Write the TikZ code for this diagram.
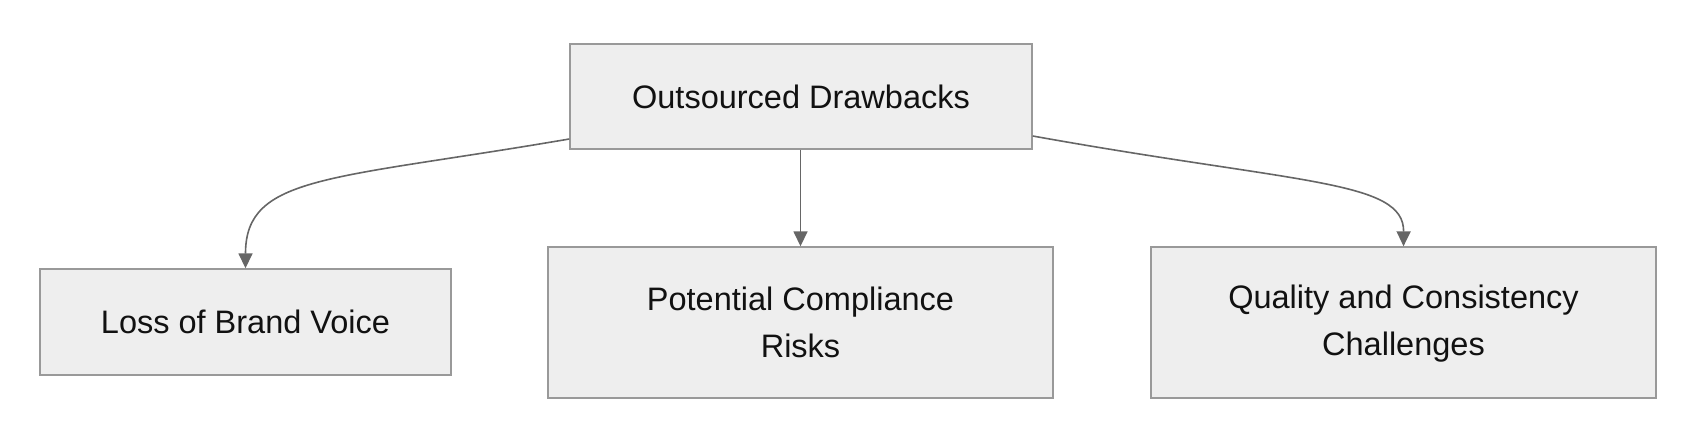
\documentclass[tikz,border=0pt]{standalone}
\usepackage{fontspec}
\setmainfont{Liberation Sans}
\usetikzlibrary{arrows.meta}
\definecolor{boxfill}{HTML}{EEEEEE}
\definecolor{boxline}{HTML}{999999}
\definecolor{linkcol}{HTML}{666666}
\definecolor{txtcol}{HTML}{111111}
\tikzset{
  box/.style={draw=boxline, fill=boxfill, line width=1.4pt, inner sep=0pt, align=center,
    text=txtcol, font=\fontsize{32.5}{47}\selectfont},
  link/.style={draw=linkcol, line width=1.6pt, -{Triangle[length=15pt,width=14pt]}}
}
\begin{document}
\begin{tikzpicture}[x=1pt,y=-1pt]
\useasboundingbox (0,0) rectangle (1696,444);
\node[box, minimum width=462pt, minimum height=105pt] (top) at (801,96.5) {Outsourced Drawbacks};
\node[box, minimum width=411pt, minimum height=106pt] (loss) at (245.5,322) {Loss of Brand Voice};
\node[box, minimum width=505pt, minimum height=151pt] (comp) at (800.5,322.5) {Potential Compliance\\Risks};
\node[box, minimum width=505pt, minimum height=151pt] (qual) at (1403.5,322.5) {\strut Quality and Consistency\\\strut Challenges};
\draw[link] (top.west |- 0,139) .. controls (330,180) and (245.5,175) .. (loss.north);
\draw[link] (top.south -| comp.north) -- (comp.north);
\draw[link] (top.east |- 0,136) .. controls (1300,184) and (1404,180) .. (qual.north);
\end{tikzpicture}
\end{document}
